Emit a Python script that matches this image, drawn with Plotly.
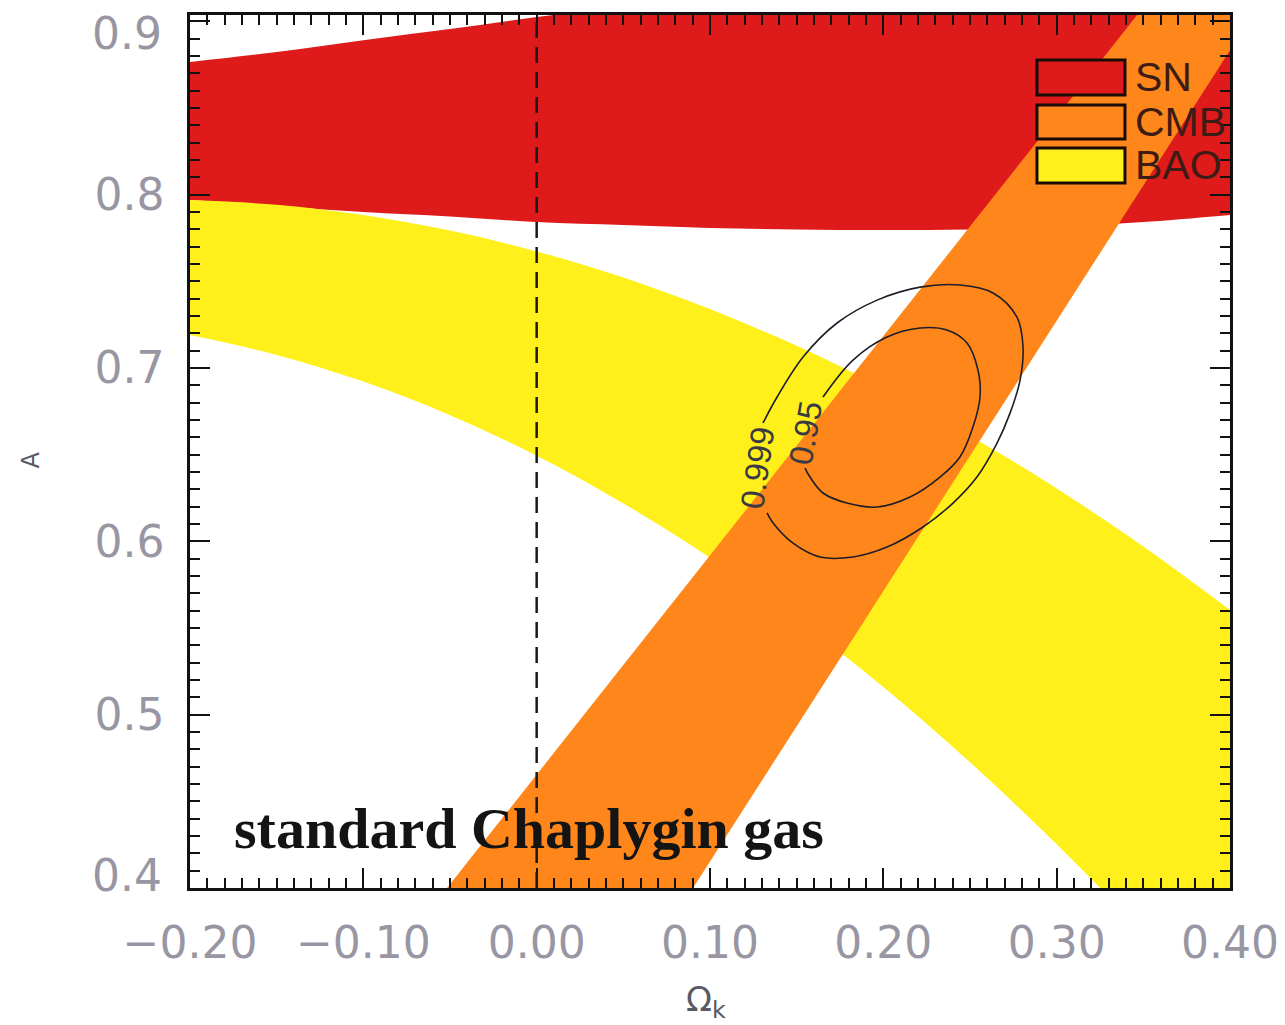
import plotly.graph_objects as go

# Curvature parameter grid used for the SN and BAO band edges
omega_grid = [-0.20, -0.15, -0.10, -0.05, 0.00, 0.05, 0.10, 0.15, 0.20, 0.25, 0.30, 0.35, 0.40]

# SN band (allowed A range versus Omega_k)
sn_upper = [0.8766, 0.8823, 0.8892, 0.8956, 0.9025, 0.9083, 0.9130, 0.9170, 0.9200, 0.9220, 0.9240, 0.9260, 0.9280]
sn_lower = [0.7969, 0.7935, 0.7900, 0.7875, 0.7842, 0.7825, 0.7808, 0.7799, 0.7796, 0.7799, 0.7813, 0.7842, 0.7883]

# BAO band
bao_upper = [0.7969, 0.7942, 0.7883, 0.7793, 0.7673, 0.7522, 0.7340, 0.7128, 0.6885, 0.6610, 0.6305, 0.5970, 0.5604]
bao_lower = [0.7190, 0.7076, 0.6922, 0.6728, 0.6494, 0.6219, 0.5906, 0.5552, 0.5160, 0.4725, 0.4252, 0.3740, 0.3190]

# CMB band: straight edges given by end points (Omega_k, A)
cmb_left_omega = [-0.0596, 0.3593]
cmb_left_a = [0.39, 0.92]
cmb_right_omega = [0.0838, 0.4235]
cmb_right_a = [0.39, 0.92]

# Joint confidence contours
c95_omega = [0.1548, 0.1577, 0.1652, 0.1790, 0.1964, 0.2154, 0.2327, 0.2442, 0.2517,
             0.2558, 0.2546, 0.2483, 0.2367, 0.2212, 0.2021, 0.1825, 0.1652]
c95_a = [0.6423, 0.6371, 0.6279, 0.6221, 0.6198, 0.6256, 0.6371, 0.6487, 0.6660,
         0.6833, 0.6988, 0.7144, 0.7219, 0.7231, 0.7179, 0.7046, 0.6833]
c999_omega = [0.1329, 0.1364, 0.1479, 0.1635, 0.1825, 0.2021, 0.2229, 0.2402, 0.2540, 0.2656, 0.2731,
              0.2789, 0.2806, 0.2771, 0.2633, 0.2442, 0.2212, 0.1964, 0.1733, 0.1537, 0.1387, 0.1306]
c999_a = [0.6164, 0.6106, 0.5990, 0.5910, 0.5910, 0.5967, 0.6083, 0.6221, 0.6371, 0.6567, 0.6740,
          0.6931, 0.7121, 0.7294, 0.7433, 0.7479, 0.7467, 0.7392, 0.7260, 0.7064, 0.6833, 0.6683]

# Contour label positions and text
contour_labels = ["0.95", "0.999"]
label_omega = [0.1548, 0.1271]
label_a = [0.6625, 0.6429]

x_ticks = [-0.2, -0.1, 0.0, 0.1, 0.2, 0.3, 0.4]
x_ticktext = ["\u22120.20", "\u22120.10", "0.00", "0.10", "0.20", "0.30", "0.40"]
y_ticks = [0.4, 0.5, 0.6, 0.7, 0.8, 0.9]
y_ticktext = ["0.4", "0.5", "0.6", "0.7", "0.8", "0.9"]

legend_names = ["SN", "CMB", "BAO"]

RED = "#DE1A1B"
ORANGE = "#FE861A"
YELLOW = "#FFF01C"
legend_colors = [RED, ORANGE, YELLOW]

LABEL_GRAY = "#9896a2"
TICK_FONT = dict(family="DejaVu Sans, sans-serif", size=44, color=LABEL_GRAY)

fig = go.Figure()


def add_band(xs, lower, upper, color, shape="spline"):
    """Fill the region between two boundary curves."""
    fig.add_trace(go.Scatter(
        x=xs, y=lower, mode="lines", line=dict(width=0, color=color, shape=shape),
        hoverinfo="skip", showlegend=False))
    fig.add_trace(go.Scatter(
        x=xs, y=upper, mode="lines", fill="tonexty", fillcolor=color,
        line=dict(width=0, color=color, shape=shape),
        hoverinfo="skip", showlegend=False))


# SN, BAO and CMB bands (CMB drawn last, on top)
add_band(omega_grid, sn_lower, sn_upper, RED)
add_band(omega_grid, bao_lower, bao_upper, YELLOW)
fig.add_trace(go.Scatter(
    x=cmb_left_omega + cmb_right_omega[::-1], y=cmb_left_a + cmb_right_a[::-1],
    fill="toself", fillcolor=ORANGE, mode="none", hoverinfo="skip", showlegend=False))

# Confidence contours
for cx, cy in [(c95_omega, c95_a), (c999_omega, c999_a)]:
    fig.add_trace(go.Scatter(
        x=cx, y=cy, mode="lines", line=dict(color="#1e1e2a", width=1.6, shape="spline"),
        hoverinfo="skip", showlegend=False))

for txt, lx, ly, ang in zip(contour_labels, label_omega, label_a, [-80, -82]):
    fig.add_annotation(x=lx, y=ly, text=txt, showarrow=False, textangle=ang,
                       font=dict(family="Liberation Sans, sans-serif", size=33, color="#3a3a44"))

# Flat-universe reference line
fig.add_vline(x=0.0, line=dict(color="#1a1a1a", width=2.5, dash="16px,9px"), layer="above")

# Model name
fig.add_annotation(x=-0.176, y=0.4346, xanchor="left", yanchor="middle", showarrow=False,
                   text="<b>standard Chaplygin gas</b>",
                   font=dict(family="Liberation Serif, serif", size=58, color="#141414"))

# Legend drawn as boxes plus labels in paper coordinates
box_x0, box_x1 = 0.8144, 0.8990
box_y = [(0.9084, 0.9485), (0.8580, 0.8969), (0.8076, 0.8477)]
for name, col, (y0, y1) in zip(legend_names, legend_colors, box_y):
    fig.add_shape(type="rect", xref="paper", yref="paper", x0=box_x0, x1=box_x1, y0=y0, y1=y1,
                  fillcolor=col, line=dict(color="#1a0a08", width=3), layer="above")
    fig.add_annotation(xref="paper", yref="paper", x=0.9067, y=(y0 + y1) / 2, xanchor="left",
                       yanchor="middle", showarrow=False, text=name,
                       font=dict(family="Liberation Sans, sans-serif", size=41, color="#3c1c14"))

# Axis titles
fig.add_annotation(xref="paper", yref="paper", x=0.496, y=-0.102, yanchor="top", showarrow=False,
                   text="\u03a9<sub>k</sub>",
                   font=dict(family="DejaVu Sans, sans-serif", size=34, color="#5a5a66"))
fig.add_annotation(xref="paper", yref="paper", x=-0.168, y=0.49, showarrow=False, textangle=-90,
                   text="A", font=dict(family="DejaVu Sans, sans-serif", size=24, color="#5a5a66"))

# The end labels of the A axis sit nudged inward so they stay inside the frame
y_axis_text = list(y_ticktext)
end_shift = {0: 13, len(y_ticks) - 1: -12}
for idx, shift in end_shift.items():
    y_axis_text[idx] = ""
    fig.add_annotation(x=0, xref="paper", y=y_ticks[idx], yref="y", xanchor="right",
                       yanchor="middle", xshift=-26, yshift=shift, showarrow=False,
                       text=y_ticktext[idx], font=TICK_FONT)

axis_common = dict(
    showgrid=False, zeroline=False, showline=True, linecolor="#111111", linewidth=2.5,
    mirror="allticks", ticks="inside", ticklen=20, tickwidth=2.2, tickcolor="#111111",
    minor=dict(ticks="inside", ticklen=10, tickwidth=2, tickcolor="#111111", dtick=0.01),
    tickfont=TICK_FONT, ticklabeloverflow="allow", automargin=False,
)

fig.update_xaxes(range=[-0.2, 0.4], tickvals=x_ticks, ticktext=x_ticktext,
                 ticklabelstandoff=14, **axis_common)
fig.update_yaxes(range=[0.4, 0.9037], tickvals=y_ticks, ticktext=y_axis_text,
                 ticklabelstandoff=14, **axis_common)

fig.update_layout(
    width=1285, height=1025,
    margin=dict(l=190, r=55, t=15, b=137),
    paper_bgcolor="white", plot_bgcolor="white",
    showlegend=False,
)

fig.write_html("out.html")
